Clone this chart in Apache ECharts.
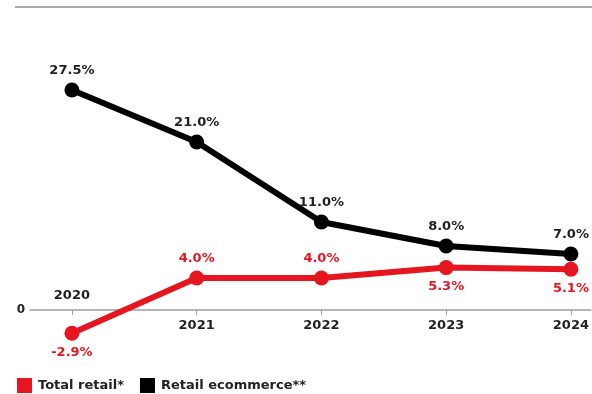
<!DOCTYPE html>
<html>
<head>
<meta charset="utf-8">
<script src="https://cdn.jsdelivr.net/npm/echarts@6/dist/echarts.min.js"></script>
<style>
html,body{margin:0;padding:0;background:#fff;}
#c{width:592px;height:394px;}
</style>
</head>
<body>
<div id="c"></div>
<script>
const years = [2020, 2021, 2022, 2023, 2024];
const totalRetail = [-2.9, 4.0, 4.0, 5.3, 5.1];
const retailEcommerce = [27.5, 21.0, 11.0, 8.0, 7.0];
const seriesNames = ['Total retail*', 'Retail ecommerce**'];
const yTicks = [0];

const RED = '#e5161f';
const BLACK = '#000000';
const FONT = '"DejaVu Sans"';
const redAbove = new Set([1, 2]);

const chart = echarts.init(document.getElementById('c'), null, {renderer: 'canvas'});
const labelText = {fontFamily: FONT, fontWeight: 'bold', fontSize: 13};
const pct = p => p.value[1].toFixed(1) + '%';

const option = {
  animation: false,
  backgroundColor: '#fff',
  graphic: [{
    type: 'rect', shape: {x: 15, y: 6, width: 577, height: 2},
    style: {fill: '#a9a9a9'}, silent: true
  }],
  grid: {left: 30, right: 0, top: 70, bottom: 84, containLabel: false},
  xAxis: [{
    type: 'value', position: 'bottom', min: 2019.664, max: 2024.16,
    axisLine: {show: true, onZero: false, lineStyle: {color: '#9c9c9c', width: 1.5}},
    axisTick: {show: true, customValues: years, length: 5, lineStyle: {color: '#9c9c9c', width: 1}},
    axisLabel: {customValues: years.slice(1), margin: 9, formatter: v => String(v), color: '#222', ...labelText},
    splitLine: {show: false}
  }, {
    type: 'value', position: 'bottom', min: 2019.664, max: 2024.16,
    axisLine: {show: false, onZero: false},
    axisTick: {show: false},
    axisLabel: {inside: true, customValues: [years[0]], margin: 8, formatter: v => String(v), color: '#222', ...labelText},
    splitLine: {show: false}
  }],
  yAxis: {
    type: 'value', min: 0, max: 30, interval: 5,
    axisLine: {show: false}, axisTick: {show: false}, splitLine: {show: false},
    axisLabel: {margin: 5, formatter: v => (yTicks.includes(v) ? String(v) : ''), color: '#222', fontFamily: FONT, fontWeight: 'bold', fontSize: 12}
  },
  legend: {
    data: seriesNames, left: 17, top: 378, padding: 0, icon: 'rect', itemWidth: 15, itemHeight: 15, itemGap: 16,
    textStyle: {color: '#222', fontFamily: FONT, fontWeight: 'bold', fontSize: 13, padding: [0, 0, 0, 1]}
  },
  series: [{
    name: seriesNames[1], type: 'line', xAxisIndex: 0, clip: false,
    data: years.map((y, i) => [y, retailEcommerce[i]]),
    symbol: 'circle', symbolSize: 15,
    lineStyle: {color: BLACK, width: 6}, itemStyle: {color: BLACK},
    label: {show: true, position: 'top', distance: 5, formatter: pct, color: '#222', ...labelText},
    z: 2
  }, {
    name: seriesNames[0], type: 'line', xAxisIndex: 0, clip: false,
    data: years.map((y, i) => ({
      value: [y, totalRetail[i]],
      label: {position: redAbove.has(i) ? 'top' : 'bottom'}
    })),
    symbol: 'circle', symbolSize: 15,
    lineStyle: {color: RED, width: 6}, itemStyle: {color: RED},
    label: {show: true, distance: 5, formatter: pct, color: RED, ...labelText},
    z: 3
  }]
};
chart.setOption(option);
</script>
</body>
</html>
